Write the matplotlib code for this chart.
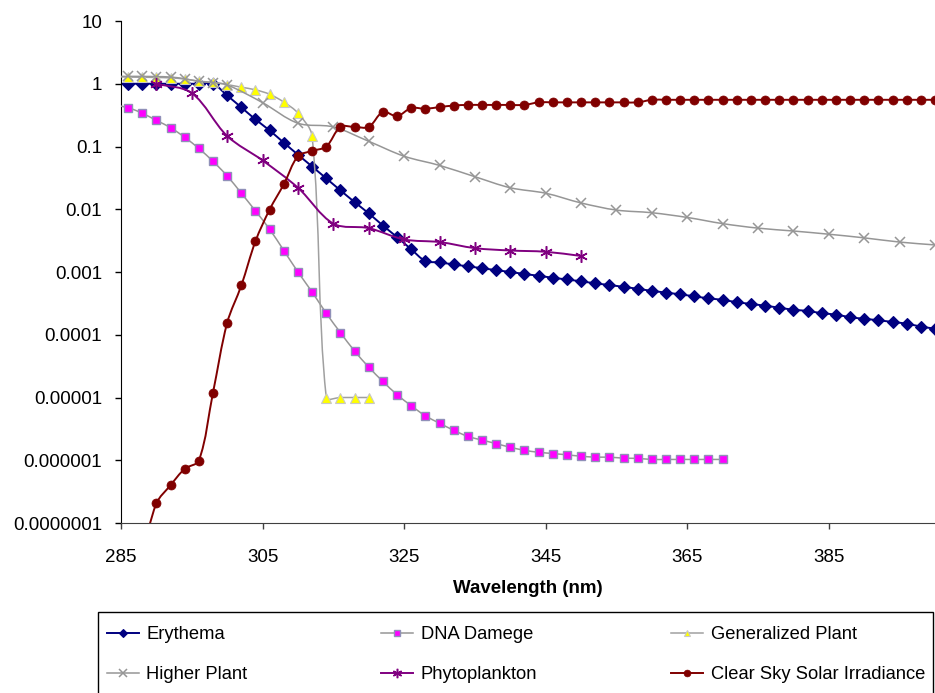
import numpy as np
import matplotlib.pyplot as plt
from matplotlib.path import Path
from matplotlib.patches import PathPatch, Rectangle
from matplotlib.lines import Line2D

plt.rcParams['font.family'] = ['Liberation Sans', 'DejaVu Sans']
plt.rcParams['font.size'] = 13.5

# wavelengths (nm) and action spectra
wl_ery = np.arange(284, 401, 2)
erythema = [1.0, 1.0, 1.0, 1.0, 1.0, 1.0, 1.0, 1.0,
            0.65, 0.42, 0.27, 0.18, 0.115, 0.074, 0.048, 0.031, 0.020, 0.013,
            0.0086, 0.0055, 0.0036, 0.0023, 0.0015,
            0.00142, 0.00132, 0.00123, 0.00115, 0.00107, 0.0010, 0.00093, 0.00087,
            0.00081, 0.00076, 0.00071, 0.00066, 0.00062, 0.00058, 0.00054, 0.00050,
            0.00047, 0.00044, 0.00041, 0.00038, 0.00036, 0.00033, 0.00031, 0.00029,
            0.00027, 0.00025, 0.00024, 0.00022, 0.00021, 0.00019, 0.00018, 0.00017,
            0.00016, 0.00015, 0.000135, 0.000125]

wl_dna = np.arange(284, 371, 2)
dna = [0.46, 0.415, 0.34, 0.26, 0.20, 0.14, 0.093, 0.058, 0.034, 0.018, 0.0094,
       0.0048, 0.0022, 0.0010, 0.00048, 0.00022, 0.000108, 5.5e-5, 3.05e-5, 1.8e-5,
       1.11e-5, 7.4e-6, 5.1e-6, 3.9e-6, 3.0e-6, 2.4e-6, 2.1e-6, 1.84e-6, 1.61e-6,
       1.44e-6, 1.34e-6, 1.28e-6, 1.22e-6, 1.16e-6, 1.12e-6, 1.12e-6, 1.08e-6,
       1.07e-6, 1.03e-6, 1.03e-6, 1.03e-6, 1.03e-6, 1.03e-6, 1.03e-6]

wl_gen = np.arange(284, 321, 2)
gen_plant = [1.3, 1.28, 1.27, 1.26, 1.24, 1.19, 1.1, 1.05, 0.97, 0.88, 0.80,
             0.68, 0.51, 0.34, 0.145, 1e-5, 1e-5, 1e-5, 1e-5]

wl_high = [284, 286, 288, 290, 292, 294, 296, 298, 300, 305, 310, 315, 320, 325,
           330, 335, 340, 345, 350, 355, 360, 365, 370, 375, 380, 385, 390, 395, 400]
high_plant = [1.31, 1.31, 1.31, 1.3, 1.28, 1.2, 1.09, 1.04, 0.96, 0.50, 0.235,
              0.205, 0.121, 0.070, 0.050, 0.033, 0.022, 0.018, 0.0126, 0.0097,
              0.0088, 0.0074, 0.0059, 0.0050, 0.0045, 0.0040, 0.0035, 0.0030, 0.0027]

wl_phyto = [290, 295, 300, 305, 310, 315, 320, 325, 330, 335, 340, 345, 350]
phyto = [1.0, 0.71, 0.147, 0.060, 0.022, 0.0059, 0.0050, 0.0033, 0.0030, 0.0024,
         0.0022, 0.0021, 0.0018]

wl_sun = np.arange(288, 401, 2)
sun = [3e-8, 2.05e-7, 4.0e-7, 7.3e-7, 9.9e-7, 1.2e-5, 1.55e-4, 6.1e-4, 3.1e-3,
       9.9e-3, 0.025, 0.07, 0.085, 0.10, 0.205, 0.205, 0.205, 0.355, 0.305, 0.41,
       0.40, 0.425, 0.45, 0.46, 0.46, 0.46, 0.46, 0.46,
       0.505, 0.505, 0.505, 0.505, 0.505, 0.505, 0.505, 0.505,
       0.555, 0.555, 0.555, 0.555, 0.555, 0.555, 0.555, 0.555, 0.555, 0.555,
       0.555, 0.555, 0.555, 0.555, 0.555, 0.555, 0.555, 0.555, 0.555, 0.555, 0.555]

x_ticks = [285, 305, 325, 345, 365, 385]
y_ticks = [1e-7, 1e-6, 1e-5, 1e-4, 1e-3, 1e-2, 1e-1, 1, 10]
y_tick_labels = ['0.0000001', '0.000001', '0.00001', '0.0001', '0.001',
                 '0.01', '0.1', '1', '10']


def smooth_path(ax, xs, ys):
    # Excel-like smoothed line: bezier segments built in screen space
    pts = ax.transData.transform(np.column_stack([xs, ys]))
    n = len(pts)
    d = np.hypot(*np.diff(pts, axis=0).T)
    verts = [pts[0]]
    codes = [Path.MOVETO]
    for i in range(n - 1):
        p0 = pts[i - 1] if i > 0 else pts[i]
        p1, p2 = pts[i], pts[i + 1]
        p3 = pts[i + 2] if i + 2 < n else pts[i + 1]
        dl = d[i - 1] if i > 0 else 0.0
        dr = d[i + 1] if i + 2 < n else 0.0
        c1 = p1 + (p2 - p0) * d[i] / (dl + d[i]) / 3
        c2 = p2 - (p3 - p1) * d[i] / (d[i] + dr) / 3
        verts += [c1, c2, p2]
        codes += [Path.CURVE4] * 3
    return Path(ax.transData.inverted().transform(np.array(verts)), codes)


fig = plt.figure(figsize=(9.35, 6.93), dpi=100)
ax = fig.add_axes([121 / 935, 1 - 523 / 693, 1 - 121 / 935, (523 - 21) / 693])
ax.set_yscale('log')
ax.set_xlim(285, 400)
ax.set_ylim(1e-7, 10)

series = [
    ('Erythema', wl_ery, erythema, '#000080',
     dict(marker='D', ms=6, mfc='#000080', mec='#000080', mew=0.8)),
    ('DNA Damege', wl_dna, dna, '#969696',
     dict(marker='s', ms=5.5, mfc='#ff00ff', mec='#9090b8', mew=1.0)),
    ('Generalized Plant', wl_gen, gen_plant, '#a0a0a0',
     dict(marker='^', ms=6.5, mfc='#ffff00', mec='#c8c8c8', mew=0.8)),
    ('Higher Plant', wl_high, high_plant, '#969696',
     dict(marker='x', ms=7, mfc='#969696', mec='#969696', mew=1.1)),
    ('Phytoplankton', wl_phyto, phyto, '#800080',
     dict(marker=(6, 2, 0), ms=9, mfc='#800080', mec='#800080', mew=1.1)),
    ('Clear Sky Solar Irradiance', wl_sun, sun, '#800000',
     dict(marker='o', ms=6.5, mfc='#800000', mec='#800000', mew=0.5)),
]

handles = []
for k, (name, xs, ys, col, mk) in enumerate(series):
    lw = 1.4 if col in ('#000080', '#800000', '#800080') else 1.1
    ax.add_patch(PathPatch(smooth_path(ax, xs, ys), fill=False, ec=col, lw=lw,
                           zorder=2 + 2 * k))
    ax.plot(xs, ys, ls='none', zorder=3 + 2 * k, **mk)
    hk = dict(mk)
    hk['ms'] = mk['ms'] * 0.75
    handles.append(Line2D([], [], color=col, lw=lw, **hk))

ax.set_xlim(285, 400)
ax.set_ylim(1e-7, 10)
ax.set_xticks(x_ticks)
ax.set_yticks(y_ticks)
ax.set_yticklabels(y_tick_labels)
ax.minorticks_off()
ax.tick_params(axis='x', length=4.5, width=1, pad=14, colors='#404040',
               labelcolor='black')
ax.tick_params(axis='y', length=4.5, width=1, pad=9)
for s in ('top', 'right'):
    ax.spines[s].set_visible(False)
ax.spines['bottom'].set_color('#404040')
ax.spines['left'].set_color('black')
ax.set_xlabel('Wavelength (nm)', fontweight='bold', labelpad=10)

order = [0, 3, 1, 4, 2, 5]
fig.legend([handles[i] for i in order], [series[i][0] for i in order], ncol=3,
           loc='upper left', bbox_to_anchor=(107 / 935, 1 - 626 / 693),
           frameon=False, handlelength=1.75, handletextpad=0.4,
           columnspacing=7.3, labelspacing=1.27, borderpad=0, borderaxespad=0,
           fontsize=13.2)
fig.add_artist(Rectangle((98 / 935, -0.02), (933 - 98) / 935, (693 - 612) / 693 + 0.02,
                         transform=fig.transFigure, fill=False, ec='black', lw=1))

fig.savefig('out.png', dpi=100)
